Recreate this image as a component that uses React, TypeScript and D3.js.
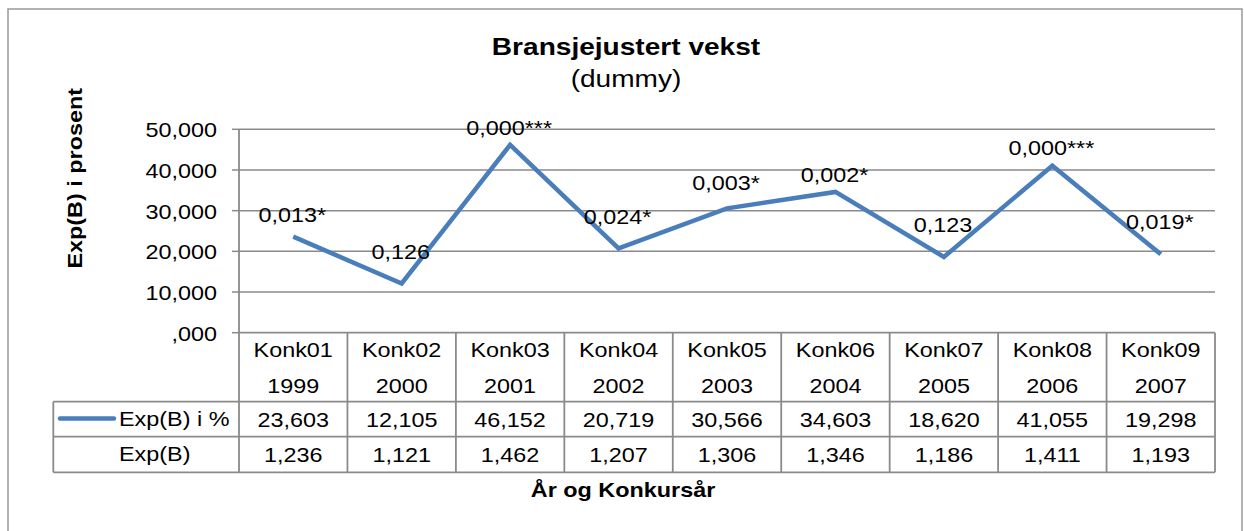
import { useEffect, useRef } from "react";
import * as d3 from "d3";

const categories = ["Konk01", "Konk02", "Konk03", "Konk04", "Konk05", "Konk06", "Konk07", "Konk08", "Konk09"];
const years = ["1999", "2000", "2001", "2002", "2003", "2004", "2005", "2006", "2007"];
const expBPct = [23.603, 12.105, 46.152, 20.719, 30.566, 34.603, 18.62, 41.055, 19.298];
const expB = [1.236, 1.121, 1.462, 1.207, 1.306, 1.346, 1.186, 1.411, 1.193];
const pLabels = ["0,013*", "0,126", "0,000***", "0,024*", "0,003*", "0,002*", "0,123", "0,000***", "0,019*"];
const yTicks = [0, 10, 20, 30, 40, 50];
const yTickLabels = [",000", "10,000", "20,000", "30,000", "40,000", "50,000"];
const seriesName = "Exp(B) i %";
const rowName2 = "Exp(B)";

// label offsets above each point (px), as placed in the original chart
const labelDy = [-15, -24, -10, -24.5, -18, -10, -25, -11, -25];

const FONT = "'Liberation Sans', Arial, sans-serif";
const SX = 1.17; // text is a bit wider than Liberation Sans
const BLUE = "#4a7ebb";
const GRID = "#8a8a8a";

export default function App() {
  const svgRef = useRef<SVGSVGElement>(null);

  useEffect(() => {
    const el = svgRef.current;
    if (!el) return;
    const svg = d3.select(el);
    svg.selectAll("*").remove();

    const W = 1244;
    const H = 531;
    const left = 239;
    const right = 1215;
    const top = 129.3;
    const bottom = 332.7;
    const tableLeft = 53.3;
    const rowLines = [401.7, 436.7, 472.3];

    const fmt = d3.formatLocale({ decimal: ",", thousands: ".", grouping: [3], currency: ["", ""] }).format(".3f");

    const xs = d3.scaleBand<string>().domain(categories).range([left, right]);
    const ys = d3.scaleLinear().domain([0, 50]).range([bottom, top]);
    const cx = (c: string) => (xs(c) as number) + xs.bandwidth() / 2;

    const text = (
      x: number,
      y: number,
      s: string,
      opts: { size?: number; bold?: boolean; anchor?: string; rotate?: number; baseline?: string } = {},
    ) => {
      svg
        .append("text")
        .attr("transform", `translate(${x},${y})${opts.rotate ? ` rotate(${opts.rotate})` : ""} scale(${SX},1)`)
        .attr("text-anchor", opts.anchor || "middle")
        .attr("dominant-baseline", opts.baseline || "auto")
        .attr("fill", "#000")
        .style("font-family", FONT)
        .style("font-size", `${opts.size || 20}px`)
        .style("font-weight", opts.bold ? "bold" : "normal")
        .text(s);
    };

    // background + frame
    svg.append("rect").attr("width", W).attr("height", H).attr("fill", "#fff");
    svg
      .append("rect")
      .attr("x", 8)
      .attr("y", 9)
      .attr("width", 1234)
      .attr("height", 540)
      .attr("fill", "#fff")
      .attr("stroke", "#999")
      .attr("stroke-width", 1.5);

    // grid
    svg
      .selectAll(".gy")
      .data(yTicks.filter((d) => d > 0))
      .enter()
      .append("line")
      .attr("x1", left)
      .attr("x2", right)
      .attr("y1", (d) => ys(d))
      .attr("y2", (d) => ys(d))
      .attr("stroke", GRID)
      .attr("stroke-width", 1.5);

    // ticks
    svg
      .selectAll(".tk")
      .data(yTicks)
      .enter()
      .append("line")
      .attr("x1", left - 7)
      .attr("x2", left)
      .attr("y1", (d) => ys(d))
      .attr("y2", (d) => ys(d))
      .attr("stroke", GRID)
      .attr("stroke-width", 1.5);
    yTicks.forEach((d, i) => text(217, ys(d) + 1, yTickLabels[i], { anchor: "end", baseline: "central" }));

    // table lines
    const tl = (x1: number, y1: number, x2: number, y2: number) =>
      svg
        .append("line")
        .attr("x1", x1)
        .attr("y1", y1)
        .attr("x2", x2)
        .attr("y2", y2)
        .attr("stroke", GRID)
        .attr("stroke-width", 1.8);
    tl(left, bottom, right, bottom);
    rowLines.forEach((y) => tl(tableLeft, y, right, y));
    tl(left, top, left, rowLines[2]);
    categories.forEach((c) => tl((xs(c) as number) + xs.bandwidth(), bottom, (xs(c) as number) + xs.bandwidth(), rowLines[2]));
    tl(tableLeft, rowLines[0], tableLeft, rowLines[2]);

    // table texts
    categories.forEach((c, i) => {
      text(cx(c), 356.7, c);
      text(cx(c), 393.3, years[i]);
      text(cx(c), 426.7, fmt(expBPct[i]));
      text(cx(c), 461.7, fmt(expB[i]));
    });
    svg
      .append("line")
      .attr("x1", 60)
      .attr("x2", 114)
      .attr("y1", 418.5)
      .attr("y2", 418.5)
      .attr("stroke", BLUE)
      .attr("stroke-width", 4.5)
      .attr("stroke-linecap", "round");
    text(119, 426, seriesName, { anchor: "start" });
    text(119, 461, rowName2, { anchor: "start" });

    // series line
    const line = d3
      .line<number>()
      .x((_, i) => cx(categories[i]))
      .y((d) => ys(d));
    svg
      .append("path")
      .datum(expBPct)
      .attr("fill", "none")
      .attr("stroke", BLUE)
      .attr("stroke-width", 4.5)
      .attr("stroke-linejoin", "miter")
      .attr("d", line);

    // data labels
    expBPct.forEach((v, i) => text(cx(categories[i]) - 1, ys(v) + labelDy[i], pLabels[i]));

    // titles
    text(626, 55, "Bransjejustert vekst", { size: 24, bold: true });
    text(626, 87, "(dummy)", { size: 24 });
    text(75, 178.3, "Exp(B) i prosent", { bold: true, rotate: -90, baseline: "central" });
    text(623, 496.7, "År og Konkursår", { bold: true });
  }, []);

  return (
    <div style={{ position: "absolute", left: 0, top: 0 }}>
      <svg ref={svgRef} width={1244} height={531} style={{ display: "block" }} />
    </div>
  );
}
